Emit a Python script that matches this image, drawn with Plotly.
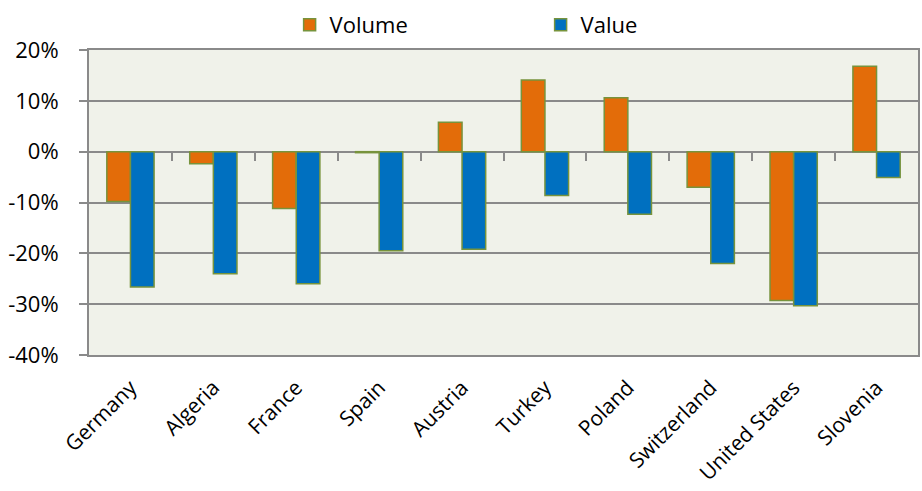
import plotly.graph_objects as go

countries = ["Germany", "Algeria", "France", "Spain", "Austria", "Turkey",
             "Poland", "Switzerland", "United States", "Slovenia"]
volume = [-9.8, -2.4, -11.2, -0.2, 5.8, 14.1, 10.6, -7.0, -29.3, 16.8]
value = [-26.6, -24.0, -26.0, -19.5, -19.2, -8.6, -12.3, -22.0, -30.3, -5.1]
y_ticks = [20, 10, 0, -10, -20, -30, -40]
y_tick_text = ["20%", "10%", "0%", "-10%", "-20%", "-30%", "-40%"]

FONT = "Open Sans"
GRID = "#8a8a8a"
OUTLINE = "#77933C"

fig = go.Figure()
fig.add_trace(go.Bar(name="Volume", x=countries, y=volume,
                     marker=dict(color="#E36C09", line=dict(color=OUTLINE, width=1.5))))
fig.add_trace(go.Bar(name="Value", x=countries, y=value,
                     marker=dict(color="#0070C0", line=dict(color=OUTLINE, width=1.5))))

# invisible helper trace on overlay axis to draw category boundary ticks at 0%
fig.add_trace(go.Scatter(x=[-0.5, 9.5], y=[0, 0], xaxis="x2", mode="lines",
                         line=dict(width=0), showlegend=False, hoverinfo="skip"))

fig.update_layout(
    width=922, height=491,
    margin=dict(l=89, r=4, t=50, b=136, autoexpand=False),
    paper_bgcolor="white",
    plot_bgcolor="#F0F2EA",
    barmode="group",
    bargap=0.43,
    bargroupgap=0,
    font=dict(family=FONT, size=20, color="black"),
    legend=dict(orientation="h", x=0.242, y=1.082, xanchor="left", yanchor="middle",
                font=dict(size=22), entrywidth=206, entrywidthmode="pixels",
                bgcolor="rgba(0,0,0,0)", traceorder="normal"),
    xaxis=dict(type="category", showgrid=False, showline=True, linecolor=GRID,
               linewidth=2, mirror=True, ticks="", tickangle=-45,
               tickfont=dict(size=21), ticklabelstandoff=10, range=[-0.5, 9.5],
               automargin=False),
    xaxis2=dict(overlaying="x", anchor="free", position=2/3, range=[-0.5, 9.5],
                tickvals=[0.5, 1.5, 2.5, 3.5, 4.5, 5.5, 6.5, 7.5, 8.5],
                ticks="outside", ticklen=8, tickwidth=1.5, tickcolor=GRID,
                showticklabels=False, showgrid=False, showline=False, zeroline=False,
                side="bottom", automargin=False),
    yaxis=dict(range=[-40, 20], tickvals=y_ticks, ticktext=y_tick_text,
               showgrid=True, gridcolor=GRID, gridwidth=1.5,
               zeroline=True, zerolinecolor=GRID, zerolinewidth=1.5,
               showline=True, linecolor=GRID, linewidth=2, mirror=True,
               ticks="outside", ticklen=8, tickwidth=1.5, tickcolor=GRID,
               tickfont=dict(size=22), ticklabelstandoff=16, automargin=False),
)

fig.write_html("out.html", config={"displayModeBar": False},
               post_script="document.body.style.margin='0';")
